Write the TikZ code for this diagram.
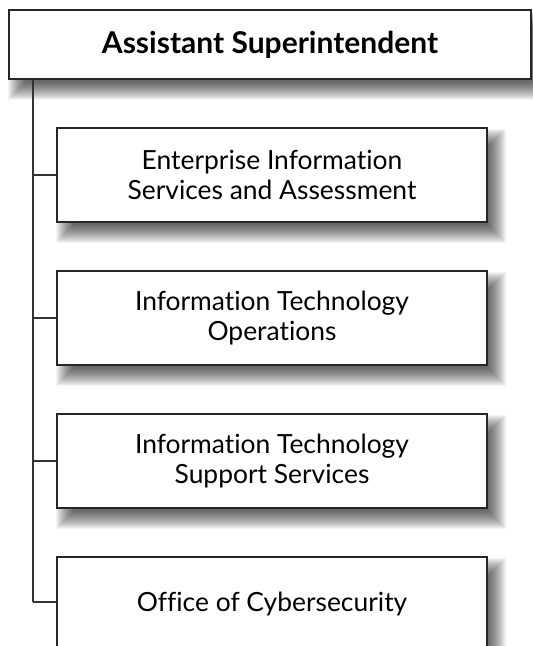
\documentclass[tikz,border=0pt]{standalone}
\usepackage{fontspec}
\setmainfont[Ligatures={NoCommon,NoContextual}]{Lato}
\usetikzlibrary{calc,backgrounds}
\newcommand{\softshadow}[1]{%
  \foreach \k in {0,...,18} {%
    \fill[black, opacity=0.042]
      ($(#1.north west)+(0+\k,2+\k)$) rectangle ($(#1.south east)+(18-\k,20-\k)$);
  }%
}
\begin{document}
\begin{tikzpicture}[x=0.75pt,y=-0.75pt,
  boxstyle/.style={draw=black!85, line width=0.9pt, fill=white, rectangle,
    align=center, inner sep=0pt},
  headbox/.style={boxstyle, minimum width=391.5pt, minimum height=51.75pt,
    font=\fontsize{22.5}{27}\selectfont\bfseries},
  unitbox/.style={boxstyle, minimum width=322.5pt, minimum height=70.5pt,
    font=\fontsize{19.8}{22.5}\selectfont},
  link/.style={draw=black!80, line width=0.9pt}
]
\useasboundingbox (0,0) rectangle (532,646);
\node[headbox] (head) at (270,44.5) {Assistant Superintendent};
\coordinate (trunk) at (33,79);
\coordinate (bend) at (33,602);
\node[unitbox] (u1) at (272,175) {Enterprise Information\\Services and Assessment};
\node[unitbox] (u2) at (272,318) {Information Technology\\Operations};
\node[unitbox] (u3) at (272,461) {Information Technology\\Support Services};
\node[unitbox] (u4) at (272,604) {Office of Cybersecurity};
\begin{pgfonlayer}{background}
  \fill[white] (0,0) rectangle (532,646);
  \softshadow{head}
  \softshadow{u1}
  \softshadow{u2}
  \softshadow{u3}
  \softshadow{u4}
  \draw[link] (trunk) -- (bend);
  \draw[link] (33,175) -- (u1.west);
  \draw[link] (33,318) -- (u2.west);
  \draw[link] (33,461) -- (u3.west);
  \draw[link] (bend) -- (u4.west |- bend);
\end{pgfonlayer}
\end{tikzpicture}
\end{document}
